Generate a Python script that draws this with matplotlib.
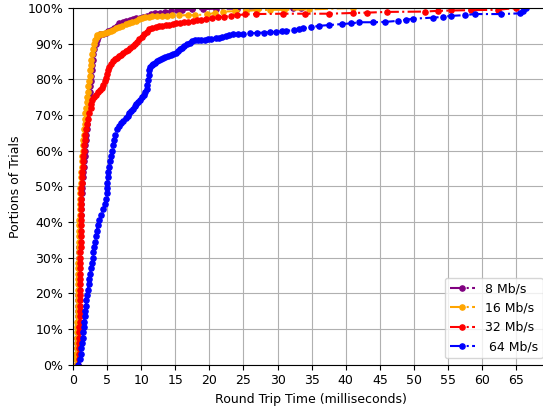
import matplotlib
matplotlib.use("Agg")
import matplotlib.pyplot as plt
from matplotlib.ticker import PercentFormatter

plt.rcParams["font.size"] = 9

# CDF points: rtt in ms (x) and percent of trials (y)
x8 = [0.5, 0.53, 0.56, 0.59, 0.62, 0.65, 0.68, 0.7, 0.72, 0.74, 0.75, 0.77, 0.78, 0.8, 0.81, 0.82,
      0.84, 0.85, 0.87, 0.89, 0.91, 0.93, 0.95, 0.96, 0.98, 1.0, 1.03, 1.06, 1.1, 1.14, 1.19, 1.24,
      1.29, 1.34, 1.39, 1.45, 1.51, 1.57, 1.63, 1.69, 1.75, 1.81, 1.87, 1.93, 1.99, 2.05, 2.12, 2.19,
      2.27, 2.35, 2.42, 2.49, 2.55, 2.61, 2.67, 2.74, 2.8, 2.88, 2.97, 3.1, 3.3, 3.45, 3.65,
      4.0, 4.4, 4.8, 5.2, 5.6, 6.0, 6.4, 6.8, 7.3, 7.8, 8.3, 8.8, 9.3, 9.8, 10.3, 10.8, 11.4, 12.0,
      12.7, 13.5, 14.3, 15.2, 16.0, 17.5, 19.0, 21.0, 24.0, 32.3, 33.5]
y8 = [0, 1.5, 3, 4.5, 6, 7.5, 9, 10.5, 12, 13.5, 15, 16.5, 18, 19.5, 21, 22.5,
      24, 25.5, 27, 28.5, 30, 31.5, 33, 34.5, 36, 37.5, 39, 40.5, 42, 43.5, 45, 46.5,
      48, 49.5, 51, 52.5, 54, 55.5, 57, 58.5, 60, 61.5, 63, 64.5, 66, 67.5, 69, 70.5,
      72, 73.5, 75, 76.5, 78, 79.5, 81, 82.5, 84, 85.5, 87, 88.5, 90, 91, 92,
      92.6, 92.8, 93.1, 93.5, 93.9, 94.4, 95.0, 95.7, 96.1, 96.4, 96.7, 96.9, 97.1, 97.3, 97.6, 97.8, 98.2, 98.5,
      98.7, 98.9, 99.1, 99.3, 99.4, 99.6, 99.7, 99.8, 99.8, 99.9, 100]

x16 = [0.45, 0.48, 0.5, 0.53, 0.55, 0.58, 0.6, 0.63, 0.64, 0.66, 0.67, 0.69, 0.7, 0.72, 0.73, 0.74,
       0.76, 0.77, 0.79, 0.8, 0.82, 0.84, 0.85, 0.87, 0.88, 0.9, 0.92, 0.94, 0.96, 0.98, 1.0, 1.03,
       1.06, 1.09, 1.13, 1.17, 1.22, 1.27, 1.32, 1.37, 1.42, 1.47, 1.53, 1.58, 1.64, 1.7, 1.76, 1.83,
       1.9, 1.98, 2.06, 2.16, 2.26, 2.35, 2.43, 2.52, 2.6, 2.69, 2.78, 2.9, 3.05, 3.25, 3.45,
       3.56, 3.9, 4.3, 4.7, 5.1, 5.5, 5.9, 6.3, 6.7, 7.2, 7.7, 8.2, 8.7, 9.2, 9.7, 10.1, 10.6, 11.1,
       11.6, 12.3, 13.0, 13.8, 14.5, 15.5, 16.8, 17.9, 19.6, 20.8, 22.0, 23.8, 25.4, 27.0, 28.9, 31.0,
       34.6, 41.0]
y16 = [0, 1.5, 3, 4.5, 6, 7.5, 9, 10.5, 12, 13.5, 15, 16.5, 18, 19.5, 21, 22.5,
       24, 25.5, 27, 28.5, 30, 31.5, 33, 34.5, 36, 37.5, 39, 40.5, 42, 43.5, 45, 46.5,
       48, 49.5, 51, 52.5, 54, 55.5, 57, 58.5, 60, 61.5, 63, 64.5, 66, 67.5, 69, 70.5,
       72, 73.5, 75, 76.5, 78, 79.5, 81, 82.5, 84, 85.5, 87, 88.5, 90, 91, 92,
       92.4, 92.7, 92.8, 93.0, 93.3, 93.6, 93.9, 94.3, 94.7, 95.0, 95.4, 95.7, 96.0, 96.4, 96.8, 97.1, 97.4, 97.6,
       97.8, 97.8, 97.8, 97.8, 97.9, 97.9, 98.0, 98.0, 98.2, 98.6, 99.0, 99.1, 99.2, 99.4, 99.5, 99.5,
       99.6, 100]

x32 = [0.75, 0.83, 0.87, 0.9, 0.91, 0.93, 0.94, 0.95, 0.96, 0.97, 0.98, 0.99, 1.0, 1.01, 1.02, 1.03,
       1.04, 1.05, 1.06, 1.07, 1.08, 1.09, 1.1, 1.11, 1.12, 1.13, 1.14, 1.15, 1.16, 1.17, 1.19, 1.2,
       1.22, 1.24, 1.26, 1.3, 1.35, 1.4, 1.46, 1.52, 1.58, 1.65, 1.73, 1.81, 1.9, 2.04, 2.22, 2.4,
       2.57, 2.7, 2.85, 3.1, 3.4, 3.7, 4.0, 4.25, 4.45, 4.65, 4.85, 5.0, 5.15, 5.35, 5.6, 5.85,
       6.1, 6.4, 6.7, 7.0, 7.4, 7.8, 8.1, 8.4, 8.75, 9.05, 9.35, 9.7, 10.1, 10.45, 10.8, 11.2,
       11.6, 12.1, 12.6, 13.1, 13.6, 14.1, 14.6, 15.1, 15.7, 16.3, 16.9, 17.6, 18.2, 18.8, 19.5,
       20.4, 21.3, 22.2, 23.2, 24.0, 25.2, 26.9, 30.8, 34.0, 37.6, 41.0, 43.1, 46.0, 51.6, 53.5,
       55.5, 58.4, 62.3, 65.0]
y32 = [0, 1.5, 3, 4.5, 6, 7.5, 9, 10.5, 12, 13.5, 15, 16.5, 18, 19.5, 21, 22.5,
       24, 25.5, 27, 28.5, 30, 31.5, 33, 34.5, 36, 37.5, 39, 40.5, 42, 43.5, 45, 46.5,
       48, 49.5, 51, 52.5, 54, 55.5, 57, 58.5, 60, 61.5, 63, 64.5, 66, 67.5, 69, 70.5,
       72, 73.2, 74.2, 75, 75.7, 76.3, 76.9, 77.6, 78.4, 79.4, 80.5, 81.5, 82.5, 83.5, 84.3, 85.0,
       85.6, 86.0, 86.4, 86.8, 87.3, 87.8, 88.3, 88.8, 89.4, 90.0, 90.6, 91.2, 91.9, 92.6, 93.3, 94.0,
       94.5, 94.8, 94.9, 95.0, 95.1, 95.3, 95.5, 95.7, 95.9, 96.1, 96.2, 96.4, 96.5, 96.7, 96.9,
       97.1, 97.4, 97.6, 97.8, 98.0, 98.2, 98.3, 98.4, 98.4, 98.4, 98.6, 98.7, 98.9, 99.0, 99.2,
       99.3, 99.4, 99.5, 100]

x64 = [0.7, 0.99, 1.1, 1.19, 1.3, 1.4, 1.47, 1.55, 1.62, 1.7, 1.78, 1.88, 1.97, 2.07, 2.18, 2.29,
       2.4, 2.52, 2.64, 2.76, 2.88, 2.99, 3.09, 3.2, 3.32, 3.46, 3.65, 3.88, 4.08, 4.4, 4.65, 4.82,
       4.92, 4.98, 5.03, 5.1, 5.2, 5.3, 5.4, 5.55, 5.7, 5.81, 5.95, 6.13, 6.45, 6.8, 7.1, 7.4,
       7.7, 8.0, 8.25, 8.5, 8.75, 9.05, 9.3, 9.6, 9.88, 10.15, 10.4, 10.62, 10.8, 10.92, 10.98, 11.08,
       11.2, 11.35, 11.55, 11.8, 12.05, 12.3, 12.6, 12.9, 13.2, 13.55, 13.9, 14.3, 14.7, 15.1, 15.45,
       15.75, 16.05, 16.35, 16.7, 17.1, 17.5, 17.9, 18.3, 18.8, 19.3, 19.8, 20.3, 20.9, 21.4, 21.9,
       22.4, 22.9, 23.5, 24.2, 25.0, 26.0, 27.0, 28.0, 28.9, 29.8, 30.7, 31.3, 32.4, 33.2, 33.7,
       34.9, 36.1, 37.5, 39.5, 40.8, 42.0, 44.0, 45.75, 47.7, 48.8, 49.9, 52.8, 54.2, 55.5, 57.5,
       58.9, 62.8, 65.5, 66.0, 66.5]
y64 = [0, 1.5, 3, 4.5, 6, 7.5, 9, 10.5, 12, 13.5, 15, 16.5, 18, 19.5, 21, 22.5,
       24, 25.5, 27, 28.5, 30, 31.5, 33, 34.5, 36, 37.5, 39, 40.5, 42, 43.5, 45, 46.5,
       48, 49.5, 51, 52.5, 54, 55.5, 57, 58.5, 60, 61.5, 63, 64.5, 66, 67, 67.7, 68.4,
       69.1, 69.8, 70.5, 71.2, 71.8, 72.5, 73.1, 73.7, 74.2, 74.9, 75.6, 76.3, 77.2, 78.5, 79.8, 81.2,
       82.5, 83.5, 84.0, 84.4, 84.7, 85.0, 85.3, 85.6, 85.9, 86.2, 86.5, 86.8, 87.1, 87.4, 87.9,
       88.4, 88.9, 89.4, 89.9, 90.3, 90.7, 90.9, 91.0, 91.1, 91.1, 91.2, 91.3, 91.5, 91.7, 92.0,
       92.2, 92.4, 92.6, 92.7, 92.8, 92.9, 93.0, 93.1, 93.2, 93.3, 93.5, 93.6, 93.8, 94.1, 94.3,
       94.6, 95.0, 95.2, 95.5, 95.7, 96.0, 96.0, 96.1, 96.4, 96.7, 97.0, 97.3, 97.5, 97.8, 98.0,
       98.3, 98.3, 98.5, 99.2, 100]

labels = ["8 Mb/s", "16 Mb/s", "32 Mb/s", " 64 Mb/s"]
colors = ["purple", "orange", "red", "blue"]

fig = plt.figure(figsize=(5.43, 4.08), dpi=100)
ax = fig.add_axes([73/543, 1-364.5/408, 476/543, 356.5/408])

for xs, ys, lab, c in zip([x8, x16, x32, x64], [y8, y16, y32, y64], labels, colors):
    ax.plot(xs, ys, ".-.", color=c, label=lab, markersize=7.5, linewidth=1.5)

ax.set_xlim(0, 69.8)
ax.set_ylim(0, 100)
ax.set_xticks(range(0, 70, 5))
ax.set_yticks(range(0, 101, 10))
ax.yaxis.set_major_formatter(PercentFormatter(decimals=0))
ax.grid(True)
ax.set_axisbelow(True)
ax.set_xlabel("Round Trip Time (milliseconds)")
ax.set_ylabel("Portions of Trials")
ax.legend(loc="lower right", fontsize=9)

fig.savefig("out.png", dpi=100)
